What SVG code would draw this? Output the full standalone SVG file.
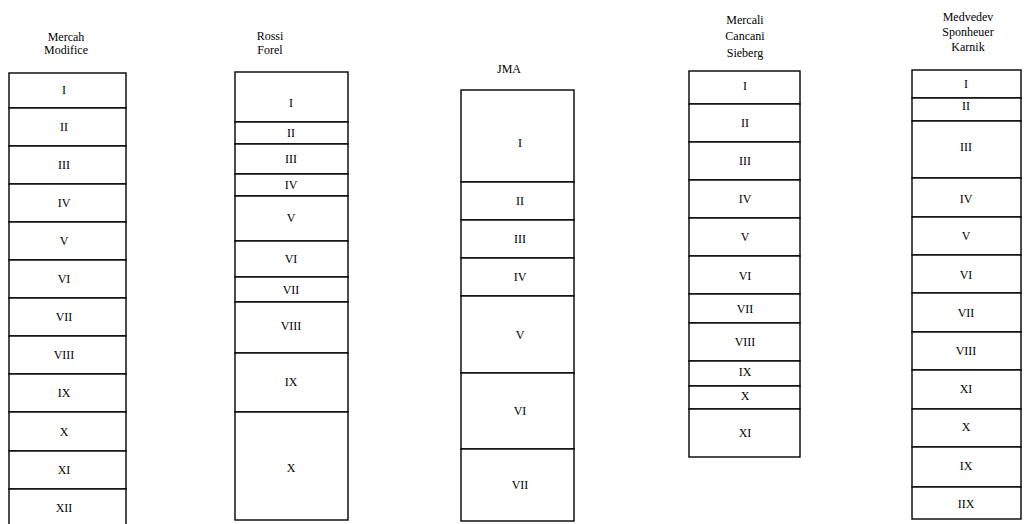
<svg xmlns="http://www.w3.org/2000/svg" width="1026" height="524" viewBox="0 0 1026 524">
<style>
.c{fill:#fff;stroke:#000;stroke-width:1.4}
.t{font-family:"Liberation Serif",serif;font-size:12px;fill:#000;text-anchor:middle}
.h{font-family:"Liberation Serif",serif;font-size:12px;fill:#000;text-anchor:middle}
</style>
<rect width="1026" height="524" fill="#fff"/>
<g id="col-mercalli-modified">
<text class="h" x="66" y="41">Mercah</text>
<text class="h" x="66" y="54">Modifice</text>
<rect class="c" x="9" y="73" width="117" height="35"/>
<rect class="c" x="9" y="108" width="117" height="38"/>
<rect class="c" x="9" y="146" width="117" height="38"/>
<rect class="c" x="9" y="184" width="117" height="38"/>
<rect class="c" x="9" y="222" width="117" height="38"/>
<rect class="c" x="9" y="260" width="117" height="38"/>
<rect class="c" x="9" y="298" width="117" height="38"/>
<rect class="c" x="9" y="336" width="117" height="38"/>
<rect class="c" x="9" y="374" width="117" height="38"/>
<rect class="c" x="9" y="412" width="117" height="39"/>
<rect class="c" x="9" y="451" width="117" height="38"/>
<rect class="c" x="9" y="489" width="117" height="40"/>
<text class="t" x="64" y="94">I</text>
<text class="t" x="64" y="131">II</text>
<text class="t" x="64" y="169">III</text>
<text class="t" x="64" y="207">IV</text>
<text class="t" x="64" y="245">V</text>
<text class="t" x="64" y="283">VI</text>
<text class="t" x="64" y="321">VII</text>
<text class="t" x="64" y="359">VIII</text>
<text class="t" x="64" y="397">IX</text>
<text class="t" x="64" y="436">X</text>
<text class="t" x="64" y="474">XI</text>
<text class="t" x="64" y="512">XII</text>
</g>
<g id="col-rossi-forel">
<text class="h" x="270" y="40">Rossi</text>
<text class="h" x="270" y="54">Forel</text>
<rect class="c" x="235" y="72" width="113" height="50"/>
<rect class="c" x="235" y="122" width="113" height="22"/>
<rect class="c" x="235" y="144" width="113" height="30"/>
<rect class="c" x="235" y="174" width="113" height="22"/>
<rect class="c" x="235" y="196" width="113" height="45"/>
<rect class="c" x="235" y="241" width="113" height="36"/>
<rect class="c" x="235" y="277" width="113" height="25"/>
<rect class="c" x="235" y="302" width="113" height="51"/>
<rect class="c" x="235" y="353" width="113" height="59"/>
<rect class="c" x="235" y="412" width="113" height="108"/>
<text class="t" x="291" y="107">I</text>
<text class="t" x="291" y="137">II</text>
<text class="t" x="291" y="163">III</text>
<text class="t" x="291" y="189">IV</text>
<text class="t" x="291" y="222">V</text>
<text class="t" x="291" y="263">VI</text>
<text class="t" x="291" y="294">VII</text>
<text class="t" x="291" y="330">VIII</text>
<text class="t" x="291" y="386">IX</text>
<text class="t" x="291" y="472">X</text>
</g>
<g id="col-jma">
<text class="h" x="509" y="73">JMA</text>
<rect class="c" x="461" y="90" width="113" height="92"/>
<rect class="c" x="461" y="182" width="113" height="38"/>
<rect class="c" x="461" y="220" width="113" height="38"/>
<rect class="c" x="461" y="258" width="113" height="38"/>
<rect class="c" x="461" y="296" width="113" height="77"/>
<rect class="c" x="461" y="373" width="113" height="76"/>
<rect class="c" x="461" y="449" width="113" height="72"/>
<text class="t" x="520" y="147">I</text>
<text class="t" x="520" y="205">II</text>
<text class="t" x="520" y="243">III</text>
<text class="t" x="520" y="281">IV</text>
<text class="t" x="520" y="339">V</text>
<text class="t" x="520" y="415">VI</text>
<text class="t" x="520" y="489">VII</text>
</g>
<g id="col-mcs">
<text class="h" x="745" y="24">Mercali</text>
<text class="h" x="745" y="40">Cancani</text>
<text class="h" x="745" y="57">Sieberg</text>
<rect class="c" x="689" y="71" width="111" height="33"/>
<rect class="c" x="689" y="104" width="111" height="38"/>
<rect class="c" x="689" y="142" width="111" height="38"/>
<rect class="c" x="689" y="180" width="111" height="38"/>
<rect class="c" x="689" y="218" width="111" height="38"/>
<rect class="c" x="689" y="256" width="111" height="38"/>
<rect class="c" x="689" y="294" width="111" height="29"/>
<rect class="c" x="689" y="323" width="111" height="38"/>
<rect class="c" x="689" y="361" width="111" height="25"/>
<rect class="c" x="689" y="386" width="111" height="23"/>
<rect class="c" x="689" y="409" width="111" height="48"/>
<text class="t" x="745" y="90">I</text>
<text class="t" x="745" y="127">II</text>
<text class="t" x="745" y="165">III</text>
<text class="t" x="745" y="203">IV</text>
<text class="t" x="745" y="241">V</text>
<text class="t" x="745" y="280">VI</text>
<text class="t" x="745" y="313">VII</text>
<text class="t" x="745" y="346">VIII</text>
<text class="t" x="745" y="376">IX</text>
<text class="t" x="745" y="400">X</text>
<text class="t" x="745" y="437">XI</text>
</g>
<g id="col-msk">
<text class="h" x="968" y="21">Medvedev</text>
<text class="h" x="968" y="36">Sponheuer</text>
<text class="h" x="968" y="51">Karnik</text>
<rect class="c" x="912" y="70" width="109" height="28"/>
<rect class="c" x="912" y="98" width="109" height="23"/>
<rect class="c" x="912" y="121" width="109" height="57"/>
<rect class="c" x="912" y="178" width="109" height="39"/>
<rect class="c" x="912" y="217" width="109" height="38"/>
<rect class="c" x="912" y="255" width="109" height="38"/>
<rect class="c" x="912" y="293" width="109" height="39"/>
<rect class="c" x="912" y="332" width="109" height="38"/>
<rect class="c" x="912" y="370" width="109" height="39"/>
<rect class="c" x="912" y="409" width="109" height="38"/>
<rect class="c" x="912" y="447" width="109" height="40"/>
<rect class="c" x="912" y="487" width="109" height="32"/>
<text class="t" x="966" y="88">I</text>
<text class="t" x="966" y="110">II</text>
<text class="t" x="966" y="151">III</text>
<text class="t" x="966" y="203">IV</text>
<text class="t" x="966" y="240">V</text>
<text class="t" x="966" y="279">VI</text>
<text class="t" x="966" y="317">VII</text>
<text class="t" x="966" y="355">VIII</text>
<text class="t" x="966" y="393">XI</text>
<text class="t" x="966" y="431">X</text>
<text class="t" x="966" y="470">IX</text>
<text class="t" x="966" y="508">IIX</text>
</g>
</svg>
